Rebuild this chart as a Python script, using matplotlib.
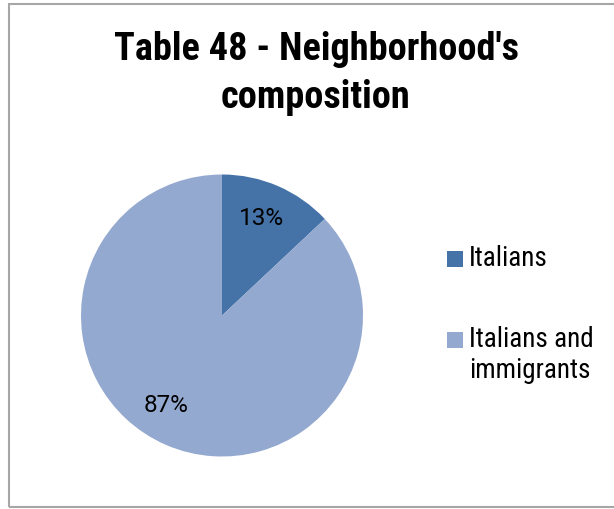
import matplotlib.pyplot as plt
from matplotlib.patches import Rectangle

# Neighborhood composition shares
categories = ["Italians", "Italians and\nimmigrants"]
shares = [13, 87]
colors = ["#4572A7", "#94A9CF"]

W, H = 614, 509
fig = plt.figure(figsize=(W / 100, H / 100), dpi=100)

# chart border (right side runs off the canvas)
fig.patches.append(Rectangle((9 / W, 2 / H), 640 / W, 503 / H, transform=fig.transFigure,
                             fill=False, edgecolor="#A6A6A6", linewidth=1.5))

narrow = ["Liberation Sans Narrow", "Roboto Condensed", "DejaVu Sans"]
fig.text(316 / W, 1 - 50 / H, "Table 48 - Neighborhood's", ha="center", va="center",
         fontsize=27.5, fontweight="bold", family=narrow)
fig.text(316 / W, 1 - 97 / H, "composition", ha="center", va="center",
         fontsize=27.5, fontweight="bold", family=narrow)

# pie centred at (222, 315) px, radius 141 px
cx, cy, r = 222, H - 315.5, 141
ax = fig.add_axes([(cx - r) / W, (cy - r) / H, 2 * r / W, 2 * r / H])
wedges, texts, autotexts = ax.pie(shares, colors=colors, startangle=90, counterclock=False,
                                  autopct="%1.0f%%", pctdistance=0.75,
                                  textprops=dict(fontsize=17.5, family="Roboto", color="black"))
autotexts[0].set_position((0.28, 0.69))
autotexts[1].set_position((-0.40, -0.64))
ax.set_xlim(-1, 1)
ax.set_ylim(-1, 1)
ax.set_aspect("auto")
ax.axis("off")

# legend with square markers
fig.patches.append(Rectangle((447 / W, 1 - 267 / H), 16 / W, 16 / H,
                             transform=fig.transFigure, facecolor=colors[0], edgecolor="none"))
fig.text(469 / W, 1 - 259 / H, categories[0], ha="left", va="center",
         fontsize=19.5, family=narrow)
fig.patches.append(Rectangle((447 / W, 1 - 348 / H), 16 / W, 16 / H,
                             transform=fig.transFigure, facecolor=colors[1], edgecolor="none"))
fig.text(469 / W, 1 - 355 / H, categories[1], ha="left", va="center",
         fontsize=19.5, family=narrow, linespacing=1.2)

fig.savefig("out.png", dpi=100)
